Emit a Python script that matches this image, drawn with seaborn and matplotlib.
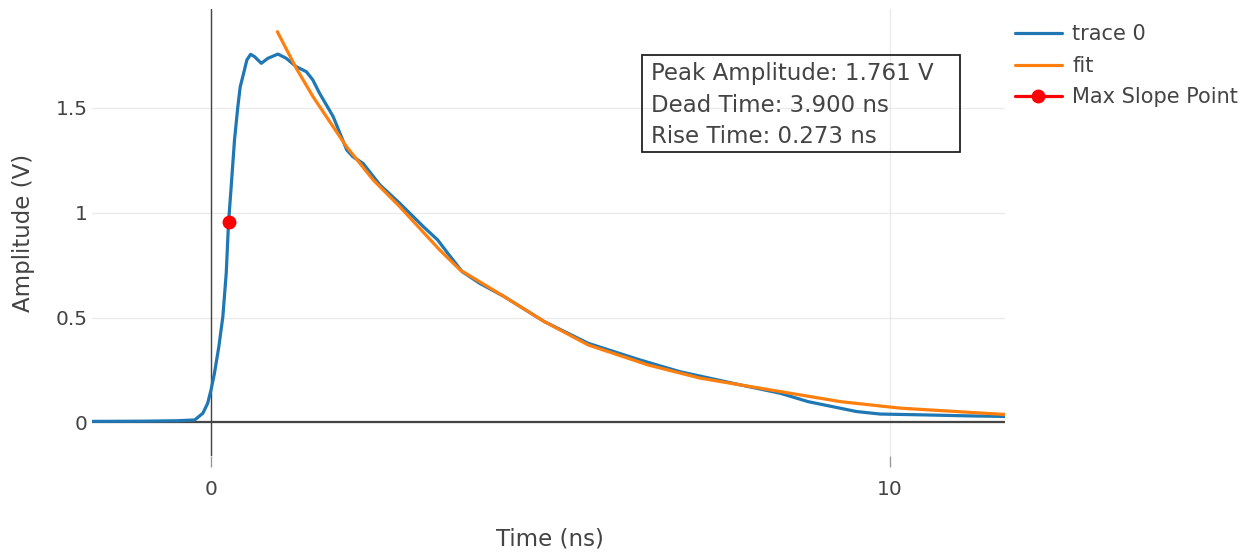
import matplotlib
matplotlib.use("Agg")
import matplotlib.pyplot as plt
from matplotlib.patches import Rectangle
import seaborn as sns
import pandas as pd

# Measured pulse (time in ns, amplitude in V)
trace_t = [-1.75, -1.0, -0.5, -0.24, -0.12, -0.05, 0.0, 0.05, 0.115, 0.174, 0.224,
           0.258, 0.297, 0.346, 0.395, 0.43, 0.48, 0.528, 0.583, 0.641, 0.741, 0.838,
           0.986, 1.108, 1.256, 1.405, 1.50, 1.60, 1.80, 2.0, 2.09, 2.24, 2.49, 2.78,
           3.13, 3.34, 3.49, 3.70, 3.96, 4.32, 4.91, 5.56, 6.32, 6.91, 7.80, 8.39,
           8.80, 9.51, 9.86, 10.5, 11.2, 11.8]
trace_v = [0.005, 0.006, 0.008, 0.012, 0.044, 0.091, 0.155, 0.234, 0.361, 0.504, 0.711,
           0.954, 1.124, 1.347, 1.505, 1.600, 1.664, 1.728, 1.755, 1.744, 1.712, 1.736,
           1.756, 1.736, 1.696, 1.672, 1.633, 1.569, 1.458, 1.299, 1.267, 1.235, 1.132,
           1.045, 0.933, 0.870, 0.806, 0.719, 0.663, 0.600, 0.481, 0.377, 0.298, 0.242,
           0.179, 0.139, 0.099, 0.052, 0.040, 0.036, 0.031, 0.028]

# Exponential decay fit, sampled
fit_t = [0.977, 1.257, 1.503, 1.749, 1.996, 2.39, 2.78, 3.37, 3.67, 4.32, 4.91,
         5.56, 6.44, 7.21, 8.39, 9.28, 10.16, 11.8]
fit_v = [1.863, 1.688, 1.553, 1.434, 1.315, 1.156, 1.029, 0.822, 0.727, 0.600, 0.481,
         0.369, 0.274, 0.211, 0.147, 0.099, 0.068, 0.036]

# Point of steepest rise
slope_t = [0.258]
slope_v = [0.954]

stats_lines = ["Peak Amplitude: 1.761 V", "Dead Time: 3.900 ns", "Rise Time: 0.273 ns"]

W, H = 1254, 554
sns.set_theme(style="white")
plt.rcParams["font.family"] = ["DejaVu Sans"]
fig = plt.figure(figsize=(W / 100, H / 100), dpi=100)
ax = fig.add_axes([92 / W, 1 - 456 / H, (1005 - 92) / W, (456 - 9) / H])

txt = "#444444"
ax.set_xlim(-1.754, 11.70)
ax.set_ylim(-0.160, 1.971)
ax.set_xticks([0, 10])
ax.set_yticks([0, 0.5, 1, 1.5])
ax.set_yticklabels(["0", "0.5", "1", "1.5"])
ax.grid(True, color="#ebebeb", lw=1.0)
ax.set_axisbelow(True)
for s in ax.spines.values():
    s.set_visible(False)
ax.axhline(0, color="#444444", lw=1.6, zorder=1.5)
ax.axvline(0, color="#444444", lw=1.0, zorder=1.5)
ax.tick_params(axis="x", length=8, width=1, color="#999999", pad=9,
               labelsize=14.5, labelcolor=txt, direction="out", bottom=True)
ax.tick_params(axis="y", length=0, pad=3, labelsize=14.5, labelcolor=txt)

df_trace = pd.DataFrame({"t": trace_t, "v": trace_v})
df_fit = pd.DataFrame({"t": fit_t, "v": fit_v})
df_pt = pd.DataFrame({"t": slope_t, "v": slope_v})

sns.lineplot(data=df_trace, x="t", y="v", ax=ax, color="#1f77b4", lw=2.3,
             sort=False, estimator=None, label="trace 0", zorder=3)
sns.lineplot(data=df_fit, x="t", y="v", ax=ax, color="#ff7f0e", lw=2.3,
             sort=False, estimator=None, label="fit", zorder=4)
sns.lineplot(data=df_pt, x="t", y="v", ax=ax, color="#ff0000", lw=2.3,
             marker="o", markersize=10, markeredgewidth=0,
             estimator=None, label="Max Slope Point", zorder=5)

ax.set_xlabel("Time (ns)", fontsize=16.5, color=txt, labelpad=0)
ax.set_ylabel("Amplitude (V)", fontsize=16.5, color=txt, labelpad=0)
ax.xaxis.set_label_coords((550 - 92) / (1005 - 92), -(527 - 456) / (456 - 9))
ax.yaxis.set_label_coords(-(92 - 35) / (1005 - 92), 0.5)

handles, labels = ax.get_legend_handles_labels()
ax.get_legend().remove()
fig.legend(handles, labels, loc="upper left",
           bbox_to_anchor=(1015 / W, 1 - 24.5 / H), frameon=False,
           fontsize=15, handlelength=2.25, handletextpad=0.5,
           labelspacing=0.55, borderpad=0, borderaxespad=0,
           labelcolor=txt)

# Summary box
fig.text(651 / W, 1 - 105 / H, "\n".join(stats_lines), ha="left", va="center",
         fontsize=16.5, color=txt, linespacing=1.45)
fig.patches.append(Rectangle((642 / W, 1 - 152 / H), (960 - 642) / W, (152 - 55) / H,
                             transform=fig.transFigure, fill=False,
                             edgecolor="#222222", lw=1.3, figure=fig))

fig.savefig("out.png", dpi=100)
